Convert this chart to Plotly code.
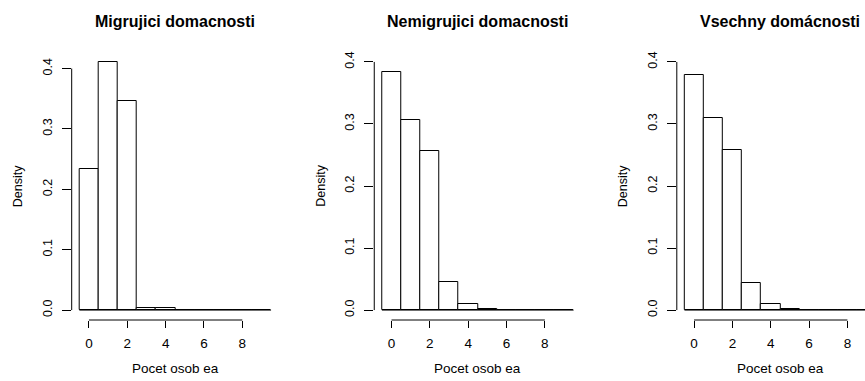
import plotly.graph_objects as go

# Number of economically active persons per household (bin centres, bin width 1)
persons = [0, 1, 2, 3, 4, 5, 6, 7, 8, 9]

# Histogram densities for each household group
dens_migrujici = [0.234, 0.411, 0.347, 0.004, 0.004, 0.0, 0.0, 0.0, 0.0, 0.0]
dens_nemigrujici = [0.383, 0.306, 0.256, 0.045, 0.009, 0.001, 0.0, 0.0, 0.0, 0.0]
dens_vsechny = [0.379, 0.310, 0.258, 0.043, 0.009, 0.001, 0.0, 0.0, 0.0, 0.0]

titles = ["Migrujici domacnosti", "Nemigrujici domacnosti", "Vsechny domácnosti"]
x_title = "Pocet osob ea"
y_title = "Density"

x_ticks = [0, 2, 4, 6, 8]
y_ticks = [0.0, 0.1, 0.2, 0.3, 0.4]
y_ticktext = ["0.0", "0.1", "0.2", "0.3", "0.4"]

series = [dens_migrujici, dens_nemigrujici, dens_vsechny]
y_upper = [max(dens_migrujici), 0.4, 0.4]

W, H = 865, 381
FONT = "Liberation Sans, Arial, Helvetica, sans-serif"
INK = "#000000"

# Layout geometry (pixels)
px_per_unit = 19.17
panel_left = [71.7, 374.25, 676.8]
plot_top, plot_bottom = 52.0, 320.0
bin_w = 1.0
x_lo = persons[0] - bin_w / 2
x_hi = persons[-1] + bin_w / 2
x_pad = 0.04 * (x_hi - x_lo)
x_range_full = [x_lo - x_pad, x_hi + x_pad]


def px_x(p):
    return p / W


def px_y(p):
    return 1 - p / H


fig = go.Figure()
annotations = []
shapes = []

for i, dens in enumerate(series):
    n = "" if i == 0 else str(i + 1)
    xa, ya = "x" + n, "y" + n
    left = panel_left[i]
    right_full = left + (x_range_full[1] - x_range_full[0]) * px_per_unit
    right = min(right_full, W)
    x_range = [x_range_full[0], x_range_full[0] + (right - left) / px_per_unit]

    ymax = y_upper[i]
    y_range = [-0.04 * ymax, 1.04 * ymax]

    fig.add_trace(go.Bar(
        x=persons, y=dens, width=bin_w, xaxis=xa, yaxis=ya,
        marker=dict(color="white", line=dict(color=INK, width=1)),
        showlegend=False, hoverinfo="x+y",
    ))
    # empty bins drawn as a flat baseline
    fig.add_trace(go.Scatter(
        x=[x_lo, x_hi], y=[0, 0], xaxis=xa, yaxis=ya, mode="lines",
        line=dict(color=INK, width=1), showlegend=False, hoverinfo="skip",
    ))

    axis_common = dict(showgrid=False, zeroline=False, showline=False,
                       ticks="outside", tickcolor=INK, tickwidth=1,
                       fixedrange=True)
    fig.layout["xaxis" + n] = dict(
        axis_common, domain=[px_x(left), px_x(right)], range=x_range,
        anchor=ya, tickvals=x_ticks, ticklen=7, ticklabelstandoff=4,
        tickfont=dict(family=FONT, size=13.5, color=INK),
    )
    fig.layout["yaxis" + n] = dict(
        axis_common, domain=[px_y(plot_bottom), px_y(plot_top)], range=y_range,
        anchor=xa, tickvals=y_ticks, ticktext=y_ticktext, ticklen=9,
        tickangle=-90, ticklabelstandoff=5,
        tickfont=dict(family=FONT, size=12.5, color=INK),
    )

    # axis lines spanning only the tick range
    shapes.append(dict(type="line", xref=xa + " domain", yref=ya,
                       x0=0, x1=0, y0=y_ticks[0], y1=y_ticks[-1],
                       line=dict(color=INK, width=1)))
    shapes.append(dict(type="line", xref=xa, yref=ya + " domain",
                       x0=x_ticks[0], x1=x_ticks[-1], y0=0, y1=0,
                       line=dict(color=INK, width=1)))

    centre = (left + right_full) / 2
    annotations.append(dict(text="<b>" + titles[i] + "</b>", xref="paper", yref="paper",
                            x=px_x(centre), y=px_y(21.7), xanchor="center", yanchor="middle",
                            showarrow=False, font=dict(family=FONT, size=16, color=INK)))
    annotations.append(dict(text=x_title, xref="paper", yref="paper",
                            x=px_x(centre), y=px_y(368.3), xanchor="center", yanchor="middle",
                            showarrow=False, font=dict(family=FONT, size=13.5, color=INK)))
    annotations.append(dict(text=y_title, xref="paper", yref="paper", textangle=-90,
                            x=px_x(left - 53.5), y=px_y((plot_top + plot_bottom) / 2),
                            xanchor="center", yanchor="middle",
                            showarrow=False, font=dict(family=FONT, size=12.5, color=INK)))

fig.update_layout(
    width=W, height=H, margin=dict(l=0, r=0, t=0, b=0),
    paper_bgcolor="white", plot_bgcolor="white",
    bargap=0, annotations=annotations, shapes=shapes,
    font=dict(family=FONT, color=INK),
)

fig.write_html("out.html")
